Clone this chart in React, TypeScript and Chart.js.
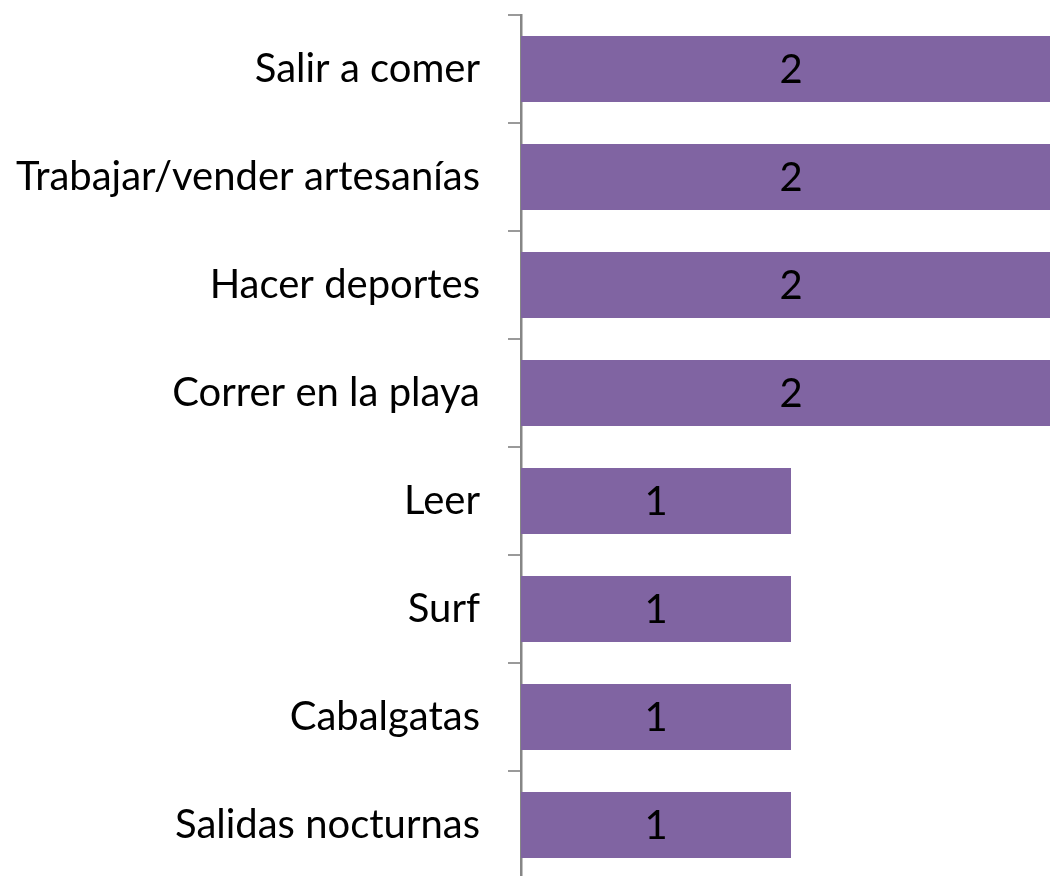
import React, { useEffect, useRef } from "react";
import { Chart, registerables } from "chart.js";

Chart.register(...registerables);

const categories = [
  "Salir a comer",
  "Trabajar/vender artesanías",
  "Hacer deportes",
  "Correr en la playa",
  "Leer",
  "Surf",
  "Cabalgatas",
  "Salidas nocturnas",
];
const values = [2, 2, 2, 2, 1, 1, 1, 1];

const FONT = "Lato, 'Open Sans', sans-serif";
const FONT_SIZE = 40;

const dataLabels = {
  id: "dataLabels",
  afterDatasetsDraw(chart: any) {
    const ctx = chart.ctx;
    const meta = chart.getDatasetMeta(0);
    const xScale = chart.scales.x;
    ctx.save();
    ctx.fillStyle = "#000000";
    ctx.font = `${FONT_SIZE}px ${FONT}`;
    ctx.textAlign = "center";
    ctx.textBaseline = "middle";
    meta.data.forEach((bar: any, i: number) => {
      const v = values[i];
      const x = (xScale.getPixelForValue(0) + xScale.getPixelForValue(v)) / 2;
      ctx.fillText(String(v), x, bar.y + 1);
    });
    ctx.restore();
  },
};

export default function App() {
  const ref = useRef<HTMLCanvasElement | null>(null);
  useEffect(() => {
    document.body.style.margin = "0";
    const chart = new Chart(ref.current!, {
      type: "bar",
      data: {
        labels: categories,
        datasets: [
          {
            data: values,
            backgroundColor: "#8064A2",
            borderWidth: 0,
            barPercentage: 0.611,
            categoryPercentage: 1,
          },
        ],
      },
      options: {
        indexAxis: "y",
        responsive: false,
        animation: false,
        layout: { padding: { top: 15, right: 1, bottom: 1, left: 0 } },
        plugins: { legend: { display: false }, tooltip: { enabled: false } },
        scales: {
          x: {
            display: false,
            min: 0,
            max: 2,
          },
          y: {
            afterFit(scale: any) {
              scale.width = 521;
              scale.paddingTop = 0;
              scale.paddingBottom = 0;
            },
            border: { display: true, color: "#868686", width: 2.5 },
            grid: {
              offset: true,
              drawOnChartArea: false,
              drawTicks: true,
              tickLength: 13,
              color: "#9a9a9a",
              lineWidth: 2,
            },
            ticks: {
              color: "#000000",
              padding: 28,
              font: { family: FONT, size: FONT_SIZE },
            },
          },
        },
      },
      plugins: [dataLabels],
    });
    return () => chart.destroy();
  }, []);
  return (
    <div style={{ width: 1050, height: 876, overflow: "hidden", position: "relative" }}>
      <canvas ref={ref} width={1062} height={880} style={{ display: "block" }} />
    </div>
  );
}
